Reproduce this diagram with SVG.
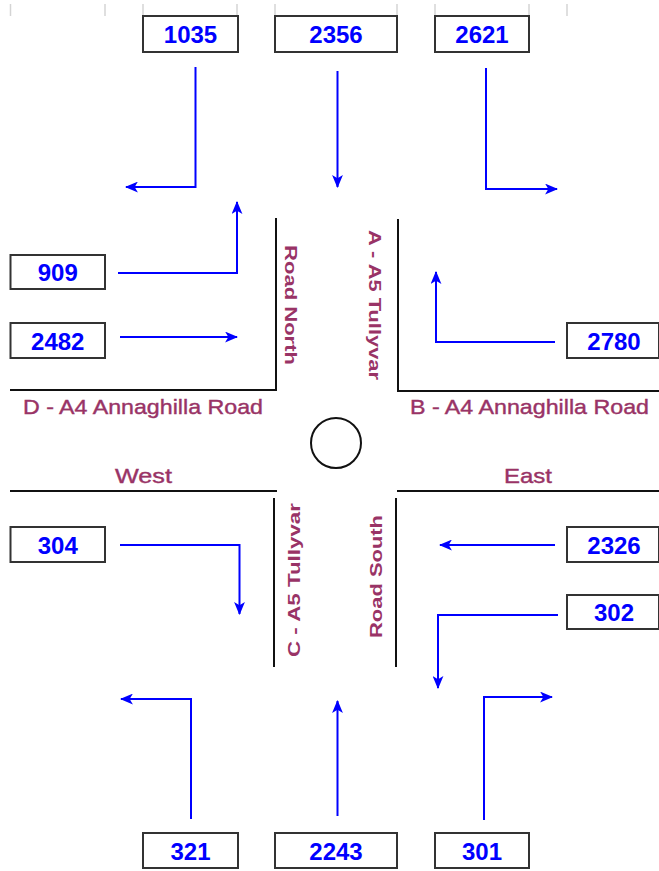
<svg xmlns="http://www.w3.org/2000/svg" width="659" height="871" viewBox="0 0 659 871">
<style>
.bg{fill:#ffffff}
.tick{stroke:#d4d4d4;stroke-width:1.5}
.box{fill:#ffffff;stroke:#333333;stroke-width:2}
.num{font-family:"Liberation Sans",Arial,sans-serif;font-weight:bold;font-size:24px;fill:#0000ff;text-anchor:middle}
.road{stroke:#111111;stroke-width:2;fill:none}
.lbl{font-family:"Liberation Sans",Arial,sans-serif;font-size:21px;fill:#993366;stroke:#993366;stroke-width:0.4}
.vlbl{font-family:"Liberation Sans",Arial,sans-serif;font-weight:bold;font-size:16px;fill:#993366;text-anchor:middle}
.arr{stroke:#0000ff;stroke-width:2;fill:none;marker-end:url(#ah)}
</style>
<defs>
<marker id="ah" viewBox="0 0 12 10" refX="11" refY="5" markerWidth="13" markerHeight="11" markerUnits="userSpaceOnUse" orient="auto">
<path d="M0,0 L12,5 L0,10 L3,5 z" fill="#0000ff"/>
</marker>
</defs>
<rect class="bg" x="0" y="0" width="659" height="871"/>
<g id="ticks">
<line class="tick" x1="10.5" y1="4" x2="10.5" y2="16"/>
<line class="tick" x1="105" y1="4" x2="105" y2="16"/>
<line class="tick" x1="143" y1="4" x2="143" y2="16"/>
<line class="tick" x1="237" y1="4" x2="237" y2="16"/>
<line class="tick" x1="275" y1="4" x2="275" y2="16"/>
<line class="tick" x1="397" y1="4" x2="397" y2="16"/>
<line class="tick" x1="435" y1="4" x2="435" y2="16"/>
<line class="tick" x1="529" y1="4" x2="529" y2="16"/>
<line class="tick" x1="567" y1="4" x2="567" y2="16"/>
</g>
<g id="roads">
<path class="road" d="M10,390 H276 V218"/>
<path class="road" d="M398,219 V391 H659"/>
<path class="road" d="M10,491 H277"/>
<path class="road" d="M397,491 H659"/>
<path class="road" d="M274,498 V667"/>
<path class="road" d="M396,498 V667"/>
<circle cx="336" cy="443" r="25" fill="none" stroke="#111111" stroke-width="2"/>
</g>
<g id="labels">
<text class="lbl" x="23" y="414" textLength="240" lengthAdjust="spacingAndGlyphs">D - A4 Annaghilla Road</text>
<text class="lbl" x="410" y="414" textLength="239" lengthAdjust="spacingAndGlyphs">B - A4 Annaghilla Road</text>
<text class="lbl" x="115" y="483" textLength="57" lengthAdjust="spacingAndGlyphs">West</text>
<text class="lbl" x="504" y="483" textLength="48" lengthAdjust="spacingAndGlyphs">East</text>
<text class="vlbl" x="305" y="-284.5" transform="rotate(90)" textLength="120" lengthAdjust="spacingAndGlyphs">Road North</text>
<text class="vlbl" x="305" y="-369" transform="rotate(90)" textLength="150" lengthAdjust="spacingAndGlyphs">A - A5 Tullyvar</text>
<text class="vlbl" x="-580" y="300" transform="rotate(-90)" textLength="154" lengthAdjust="spacingAndGlyphs">C - A5 Tullyvar</text>
<text class="vlbl" x="-576.5" y="382" transform="rotate(-90)" textLength="123" lengthAdjust="spacingAndGlyphs">Road South</text>
</g>
<g id="connectors">
<path class="arr" d="M195.5,67 V187 H126"/>
<path class="arr" d="M337.5,71 V187"/>
<path class="arr" d="M486,68 V189 H557"/>
<path class="arr" d="M118,273 H237 V202"/>
<path class="arr" d="M120,337 H237"/>
<path class="arr" d="M555,342 H436 V272"/>
<path class="arr" d="M120,545 H239.5 V614"/>
<path class="arr" d="M555,545 H440"/>
<path class="arr" d="M558,615 H438 V688"/>
<path class="arr" d="M191,819 V699 H121"/>
<path class="arr" d="M337.5,816 V701"/>
<path class="arr" d="M484,820 V697 H552"/>
</g>
<g id="n1035"><rect class="box" x="143" y="16" width="95" height="36"/><text class="num" x="190.5" y="43">1035</text></g>
<g id="n2356"><rect class="box" x="275" y="16" width="122" height="36"/><text class="num" x="336" y="43">2356</text></g>
<g id="n2621"><rect class="box" x="435" y="16" width="94" height="36"/><text class="num" x="482" y="43">2621</text></g>
<g id="n909"><rect class="box" x="10.5" y="255" width="94.5" height="34"/><text class="num" x="57.75" y="281">909</text></g>
<g id="n2482"><rect class="box" x="10.5" y="323" width="94.5" height="35"/><text class="num" x="57.75" y="349.5">2482</text></g>
<g id="n2780"><rect class="box" x="567" y="323" width="92" height="35"/><text class="num" x="614" y="349.5">2780</text></g>
<g id="n304"><rect class="box" x="10.5" y="527" width="94.5" height="35"/><text class="num" x="57.75" y="553.5">304</text></g>
<g id="n2326"><rect class="box" x="567" y="527" width="92" height="35"/><text class="num" x="614" y="553.5">2326</text></g>
<g id="n302"><rect class="box" x="567" y="595" width="92" height="34"/><text class="num" x="614" y="621">302</text></g>
<g id="n321"><rect class="box" x="143" y="833" width="95" height="35"/><text class="num" x="190.5" y="859.5">321</text></g>
<g id="n2243"><rect class="box" x="275" y="833" width="122" height="35"/><text class="num" x="336" y="859.5">2243</text></g>
<g id="n301"><rect class="box" x="435" y="833" width="94" height="35"/><text class="num" x="482" y="859.5">301</text></g>
</svg>
